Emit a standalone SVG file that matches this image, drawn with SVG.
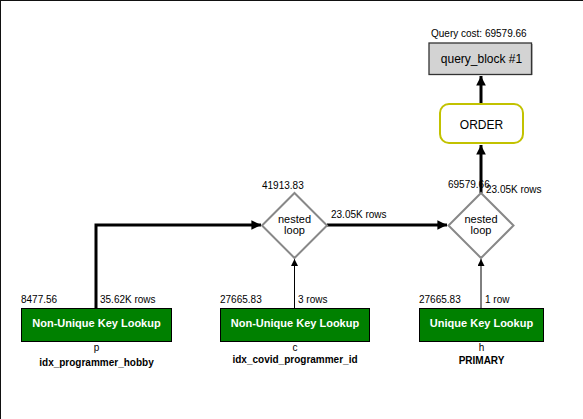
<svg xmlns="http://www.w3.org/2000/svg" width="583" height="419" viewBox="0 0 583 419">
<defs>
<marker id="ahThick" viewBox="0 0 10 10" refX="10" refY="5" markerWidth="4" markerHeight="3.2" orient="auto" markerUnits="strokeWidth">
<path d="M0,0 L10,5 L0,10 z" fill="#000"/>
</marker>
<marker id="ahThin" viewBox="0 0 10 10" refX="10" refY="5" markerWidth="9" markerHeight="7" orient="auto" markerUnits="strokeWidth">
<path d="M0,0 L10,5 L0,10 z" fill="#000"/>
</marker>
</defs>
<style>
text{font-family:"Liberation Sans",Arial,sans-serif;fill:#000}
.lbl{font-size:10px}
.op{font-size:11px;font-weight:bold;fill:#fff}
.tbl{font-size:10px}
.idx{font-size:10px;font-weight:bold}
.green{fill:#008000;stroke:#000;stroke-width:1}
.dia{fill:#fff;stroke:#888;stroke-width:2}
.dtx{font-size:11px}
.thick{stroke:#000;stroke-width:3;fill:none}
.thin{stroke:#000;stroke-width:1;fill:none}
</style>
<rect x="0" y="0" width="583" height="419" fill="#fff"/>
<line x1="0" y1="0.5" x2="583" y2="0.5" stroke="#111" stroke-width="1"/>
<line x1="0.5" y1="0" x2="0.5" y2="419" stroke="#111" stroke-width="1"/>

<g id="connectors">
<path class="thick" d="M96,308 L96,225 L261,225" marker-end="url(#ahThick)"/>
<path class="thick" d="M327,225 L447,225" marker-end="url(#ahThick)"/>
<path class="thick" d="M481,193 L481,145" marker-end="url(#ahThick)"/>
<path class="thick" d="M481,104 L481,76" marker-end="url(#ahThick)"/>
<path class="thin" d="M294.5,308 L294.5,259" marker-end="url(#ahThin)"/>
<path class="thin" d="M481,308 L481,259" marker-end="url(#ahThin)"/>
</g>

<g id="query_block">
<text class="lbl" x="431" y="36.5">Query cost: 69579.66</text>
<rect x="429" y="43" width="102.5" height="31.5" fill="#d3d3d3" stroke="#333" stroke-width="1.3"/>
<line x1="532.5" y1="44" x2="532.5" y2="75" stroke="#aaa" stroke-width="1"/>
<text x="481.5" y="62.5" font-size="12" text-anchor="middle">query_block #1</text>
</g>

<g id="order">
<rect x="440" y="104" width="83" height="39" rx="9" ry="9" fill="#fff" stroke="#c2c200" stroke-width="2"/>
<text x="481.5" y="128.5" font-size="12" text-anchor="middle">ORDER</text>
</g>

<g id="nested_loop_2">
<text class="lbl" x="448" y="187.5">69579.66</text>
<text class="lbl" x="486" y="192.5">23.05K rows</text>
<polygon class="dia" points="481,193 513.5,225.5 481,258 448.5,225.5"/>
<text class="dtx" x="481" y="223" text-anchor="middle">nested</text>
<text class="dtx" x="481" y="234" text-anchor="middle">loop</text>
</g>

<g id="nested_loop_1">
<text class="lbl" x="262" y="188.5">41913.83</text>
<text class="lbl" x="331" y="217.5">23.05K rows</text>
<polygon class="dia" points="294.5,193 327,225.5 294.5,258 262,225.5"/>
<text class="dtx" x="294.5" y="223" text-anchor="middle">nested</text>
<text class="dtx" x="294.5" y="234" text-anchor="middle">loop</text>
</g>

<g id="table_p">
<text class="lbl" x="21" y="302.5">8477.56</text>
<text class="lbl" x="100" y="302.5">35.62K rows</text>
<rect class="green" x="21.5" y="308.5" width="150" height="33"/>
<text class="op" x="96.5" y="327" text-anchor="middle">Non-Unique Key Lookup</text>
<text class="tbl" x="96.5" y="351" text-anchor="middle">p</text>
<text class="idx" x="96.5" y="366" text-anchor="middle">idx_programmer_hobby</text>
</g>

<g id="table_c">
<text class="lbl" x="220" y="302.5">27665.83</text>
<text class="lbl" x="298" y="302.5">3 rows</text>
<rect class="green" x="220.5" y="308.5" width="149" height="33"/>
<text class="op" x="295" y="327" text-anchor="middle">Non-Unique Key Lookup</text>
<text class="tbl" x="295" y="350.5" text-anchor="middle">c</text>
<text class="idx" x="295" y="363" text-anchor="middle">idx_covid_programmer_id</text>
</g>

<g id="table_h">
<text class="lbl" x="419" y="302.5">27665.83</text>
<text class="lbl" x="485" y="302.5">1 row</text>
<rect class="green" x="419.5" y="308.5" width="124" height="33"/>
<text class="op" x="481.5" y="327" text-anchor="middle">Unique Key Lookup</text>
<text class="tbl" x="481.5" y="350.5" text-anchor="middle">h</text>
<text class="idx" x="481.5" y="364" text-anchor="middle">PRIMARY</text>
</g>
</svg>
